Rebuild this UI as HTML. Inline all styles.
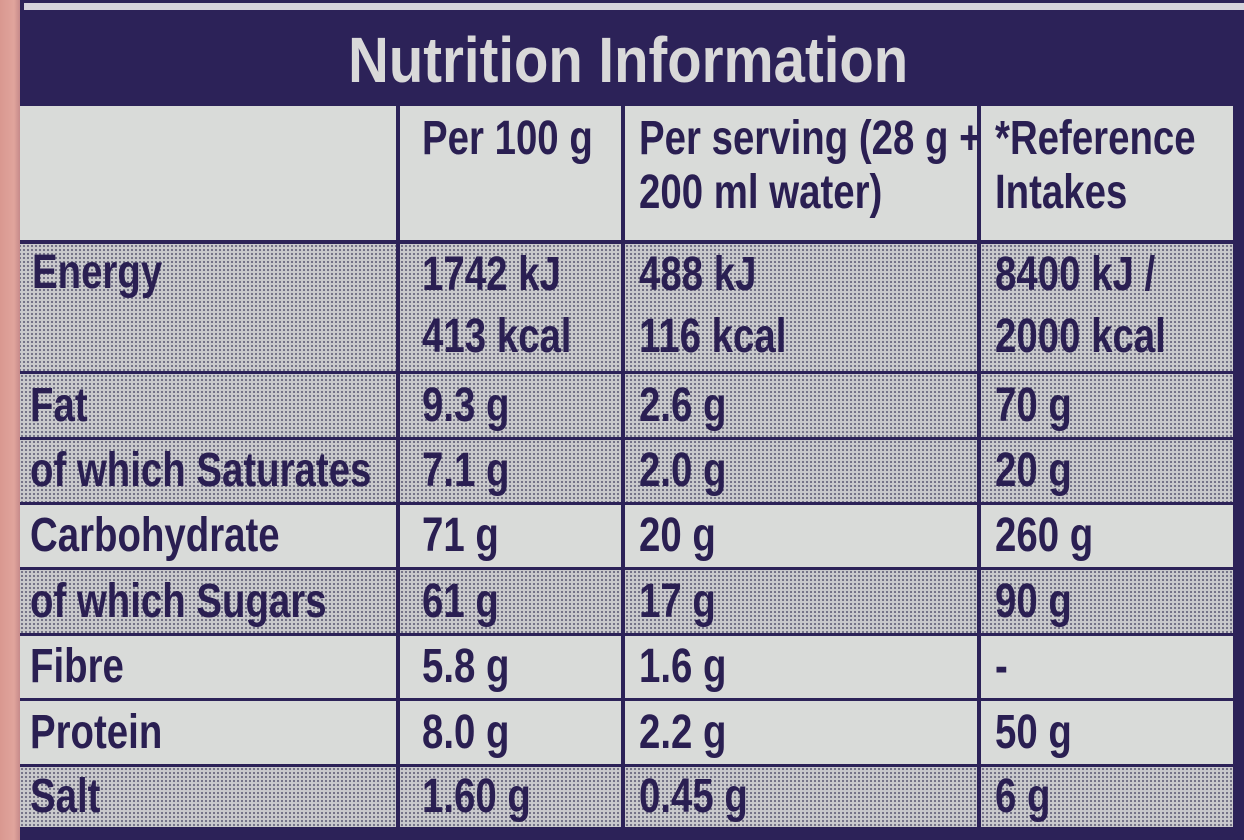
<!DOCTYPE html>
<html><head><meta charset="utf-8"><style>
*{margin:0;padding:0;box-sizing:border-box}
body{width:1244px;height:840px;overflow:hidden;background:#2c2258;position:relative;font-family:"Liberation Sans",sans-serif;font-weight:bold;color:#2a1f52}
.pink{position:absolute;left:0;top:0;width:20px;height:840px;background:linear-gradient(90deg,#d99890,#e0a49c 70%,#c58a8a);z-index:2}
.topline{position:absolute;left:24px;top:3px;width:1220px;height:7px;background:#d5d3dc}
.title{position:absolute;left:22px;top:10px;width:1212px;height:95px;text-align:center;color:#d9d9d9;font-size:64px;line-height:100px}
.title span{display:inline-block;transform:scaleX(.88)}
.cell{position:absolute;background:#d9dbd9;font-size:48px;line-height:54px;padding-left:8px;white-space:nowrap;overflow:hidden}
.cell span{display:inline-block;transform:scaleX(.8);transform-origin:left center}
.d{background-color:#c9c9cc;background-image:radial-gradient(circle,#6c6a80 0.9px,transparent 1.3px);background-size:4px 4px}
</style></head><body>
<div class="pink"></div>
<div class="topline"></div>
<div class="title"><span>Nutrition Information</span></div>
<div class="cell" style="left:18px;top:106px;width:378px;height:134px"></div>
<div class="cell" style="left:400px;top:106px;width:221px;height:134px;padding-left:22px;padding-top:6px"><span>Per 100 g</span></div>
<div class="cell" style="left:625px;top:106px;width:352px;height:134px;padding-left:14px;padding-top:6px"><span>Per serving (28 g +<br>200 ml water)</span></div>
<div class="cell" style="left:981px;top:106px;width:252px;height:134px;padding-left:14px;padding-top:6px"><span>*Reference<br>Intakes</span></div>

<div class="cell d" style="left:14px;top:244px;width:382px;height:127px;padding-left:18px;line-height:58px"><span>Energy</span></div>
<div class="cell d" style="left:400px;top:244px;width:221px;height:127px;padding-left:22px;line-height:62px"><span>1742 kJ<br>413 kcal</span></div>
<div class="cell d" style="left:625px;top:244px;width:352px;height:127px;padding-left:14px;line-height:62px"><span>488 kJ<br>116 kcal</span></div>
<div class="cell d" style="left:981px;top:244px;width:252px;height:127px;padding-left:14px;line-height:62px"><span>8400 kJ /<br>2000 kcal</span></div>

<div id="rows"></div>
<script>
var rows=[
["Fat","9.3 g","2.6 g","70 g",1,374],
["of which Saturates","7.1 g","2.0 g","20 g",1,440],
["Carbohydrate","71 g","20 g","260 g",0,505],
["of which Sugars","61 g","17 g","90 g",1,570],
["Fibre","5.8 g","1.6 g","-",0,636],
["Protein","8.0 g","2.2 g","50 g",0,701],
["Salt","1.60 g","0.45 g","6 g",1,767]];
var h='';
rows.forEach(function(r,i){
 var top=r[5],ht=(i<6?rows[i+1][5]:830)-top-3;
 var c=r[4]?'cell d':'cell';
 var lh='line-height:'+(ht)+'px;';
 h+='<div class="'+c+'" style="'+lh+'left:12px;top:'+top+'px;width:384px;height:'+ht+'px;padding-left:18px"><span>'+r[0]+'</span></div>';
 h+='<div class="'+c+'" style="'+lh+'left:400px;top:'+top+'px;width:221px;height:'+ht+'px;padding-left:22px"><span>'+r[1]+'</span></div>';
 h+='<div class="'+c+'" style="'+lh+'left:625px;top:'+top+'px;width:352px;height:'+ht+'px;padding-left:14px"><span>'+r[2]+'</span></div>';
 h+='<div class="'+c+'" style="'+lh+'left:981px;top:'+top+'px;width:252px;height:'+ht+'px;padding-left:14px"><span>'+r[3]+'</span></div>';
});
document.getElementById('rows').innerHTML=h;
</script>
</body></html>
